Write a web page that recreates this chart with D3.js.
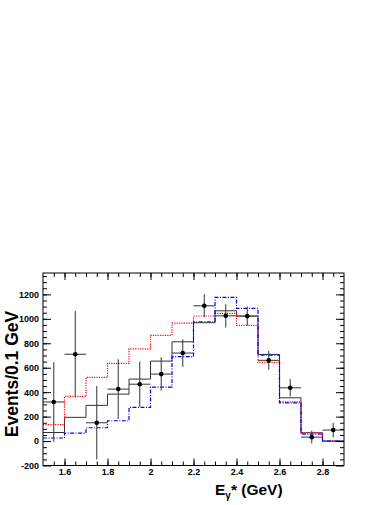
<!DOCTYPE html>
<html lang="en">
<head>
    <meta charset="UTF-8">
    <title>E gamma spectrum</title>
    <style>
        body { margin: 0; background: #fff; }
        text { font-family: "Liberation Sans", Arial, sans-serif; font-weight: bold; }
    </style>
</head>
<body>
<script src='https://d3js.org/d3.v7.min.js' type='text/javascript'></script>
<script>
    // bin centres (GeV), bin width 0.1
    var binCenters = [1.55, 1.65, 1.75, 1.85, 1.95, 2.05, 2.15, 2.25, 2.35, 2.45, 2.55, 2.65, 2.75, 2.85];
    // data points and their errors
    var dataValues = [320, 710, 150, 425, 465, 548, 720, 1107, 1025, 1022, 660, 436, 32, 90];
    var dataErrors = [325, 355, 300, 245, 185, 137, 112, 95, 95, 78, 77, 72, 52, 58];
    // histograms
    var totalHist = [70, 194, 292, 384, 507, 654, 812, 968, 1066, 1023, 709, 354, 68, 0];
    var redHist = [134, 365, 521, 636, 755, 865, 965, 1023, 1045, 946, 644, 321, 68, 0];
    var blueHist = [25, 65, 109, 166, 275, 442, 690, 976, 1175, 1085, 703, 313, 57, 0];
    // axis ticks
    var xTicks = [1.6, 1.8, 2.0, 2.2, 2.4, 2.6, 2.8];
    var xTickLabels = ["1.6", "1.8", "2", "2.2", "2.4", "2.6", "2.8"];
    var yTicks = [-200, 0, 200, 400, 600, 800, 1000, 1200];
    var yTickLabels = ["-200", "0", "200", "400", "600", "800", "1000", "1200"];

    const width = 390;
    const height = 505;
    const fLeft = 43, fRight = 344, fTop = 273, fBottom = 465.5;
    const halfBin = 0.05;

    const svg = d3.select("body")
        .append("svg")
        .attr("width", width)
        .attr("height", height);

    svg.append("rect").attr("width", width).attr("height", height).attr("fill", "#fff");

    var x = d3.scaleLinear().domain([1.5, 2.9]).range([fLeft, fRight]);
    var y = d3.scaleLinear().domain([-200, 1375]).range([fBottom, fTop]);

    // step line through bin edges
    function stepPoints(vals) {
        var pts = vals.map(function (v, i) { return [binCenters[i] - halfBin, v]; });
        pts.push([binCenters[binCenters.length - 1] + halfBin, vals[vals.length - 1]]);
        return pts;
    }
    var step = d3.line()
        .x(function (d) { return x(d[0]); })
        .y(function (d) { return y(d[1]); })
        .curve(d3.curveStepAfter);

    var plot = svg.append("g");

    plot.append("path")
        .attr("d", step(stepPoints(totalHist)))
        .attr("fill", "none")
        .attr("stroke", "#333")
        .attr("stroke-width", 1);

    plot.append("path")
        .attr("d", step(stepPoints(redHist)))
        .attr("fill", "none")
        .attr("stroke", "#f00")
        .attr("stroke-width", 1.2)
        .attr("stroke-dasharray", "1.2,1.2");

    plot.append("path")
        .attr("d", step(stepPoints(blueHist)))
        .attr("fill", "none")
        .attr("stroke", "#00f")
        .attr("stroke-width", 1.2)
        .attr("stroke-dasharray", "4,1.5,1,1.5");

    // data points
    var pts = plot.selectAll("g.pt")
        .data(binCenters)
        .enter()
        .append("g")
        .attr("class", "pt");

    pts.append("line")
        .attr("x1", function (d) { return x(d - halfBin); })
        .attr("x2", function (d) { return x(d + halfBin); })
        .attr("y1", function (d, i) { return y(dataValues[i]); })
        .attr("y2", function (d, i) { return y(dataValues[i]); })
        .attr("stroke", "#555")
        .attr("stroke-width", 1.2);

    pts.append("line")
        .attr("x1", function (d) { return x(d); })
        .attr("x2", function (d) { return x(d); })
        .attr("y1", function (d, i) { return y(Math.max(dataValues[i] - dataErrors[i], -200)); })
        .attr("y2", function (d, i) { return y(dataValues[i] + dataErrors[i]); })
        .attr("stroke", "#444")
        .attr("stroke-width", 1.1);

    pts.append("circle")
        .attr("cx", function (d) { return x(d); })
        .attr("cy", function (d, i) { return y(dataValues[i]); })
        .attr("r", 2.3)
        .attr("fill", "#000");

    // frame
    svg.append("rect")
        .attr("x", fLeft).attr("y", fTop)
        .attr("width", fRight - fLeft).attr("height", fBottom - fTop)
        .attr("fill", "none").attr("stroke", "#000").attr("stroke-width", 1);

    // ticks on all four sides, pointing inward
    var xMinor = d3.range(1.55, 2.9, 0.05).map(function (v) { return Math.round(v * 100) / 100; });
    var yMinor = d3.range(-150, 1375, 50);

    function addAxis(axis, tx, ty, labels) {
        var g = svg.append("g").attr("transform", "translate(" + tx + "," + ty + ")").call(axis);
        g.select(".domain").remove();
        g.selectAll("line").attr("stroke", "#000");
        if (labels) {
            g.selectAll("text").attr("font-size", 9).attr("fill", "#000")
                .style("font-family", "'Liberation Sans', Arial, sans-serif").style("font-weight", "bold");
        } else {
            g.selectAll("text").remove();
        }
        return g;
    }

    addAxis(d3.axisBottom(x).tickValues(xMinor).tickSizeInner(-4).tickSizeOuter(0), 0, fBottom, false);
    addAxis(d3.axisTop(x).tickValues(xMinor).tickSizeInner(-4).tickSizeOuter(0), 0, fTop, false);
    addAxis(d3.axisBottom(x).tickValues(xTicks).tickSizeInner(-7).tickSizeOuter(0).tickPadding(3)
        .tickFormat(function (d, i) { return xTickLabels[i]; }), 0, fBottom, true);
    addAxis(d3.axisTop(x).tickValues(xTicks).tickSizeInner(-7).tickSizeOuter(0), 0, fTop, false);

    addAxis(d3.axisLeft(y).tickValues(yMinor).tickSizeInner(-4).tickSizeOuter(0), fLeft, 0, false);
    addAxis(d3.axisRight(y).tickValues(yMinor).tickSizeInner(-4).tickSizeOuter(0), fRight, 0, false);
    addAxis(d3.axisLeft(y).tickValues(yTicks).tickSizeInner(-8).tickSizeOuter(0).tickPadding(4)
        .tickFormat(function (d, i) { return yTickLabels[i]; }), fLeft, 0, true);
    addAxis(d3.axisRight(y).tickValues(yTicks).tickSizeInner(-8).tickSizeOuter(0), fRight, 0, false);

    // axis titles
    svg.append("text")
        .attr("transform", "translate(17.5,374) rotate(-90)")
        .attr("text-anchor", "middle")
        .attr("font-size", 17.5)
        .text("Events/0.1 GeV");

    var xt = svg.append("text")
        .attr("x", 215)
        .attr("y", 495)
        .attr("font-size", 15.5);
    xt.append("tspan").text("E");
    xt.append("tspan").attr("font-size", 10).attr("dy", 4).text("\u03b3");
    xt.append("tspan").attr("dy", -4).text("* (GeV)");
</script>
</body>
</html>
